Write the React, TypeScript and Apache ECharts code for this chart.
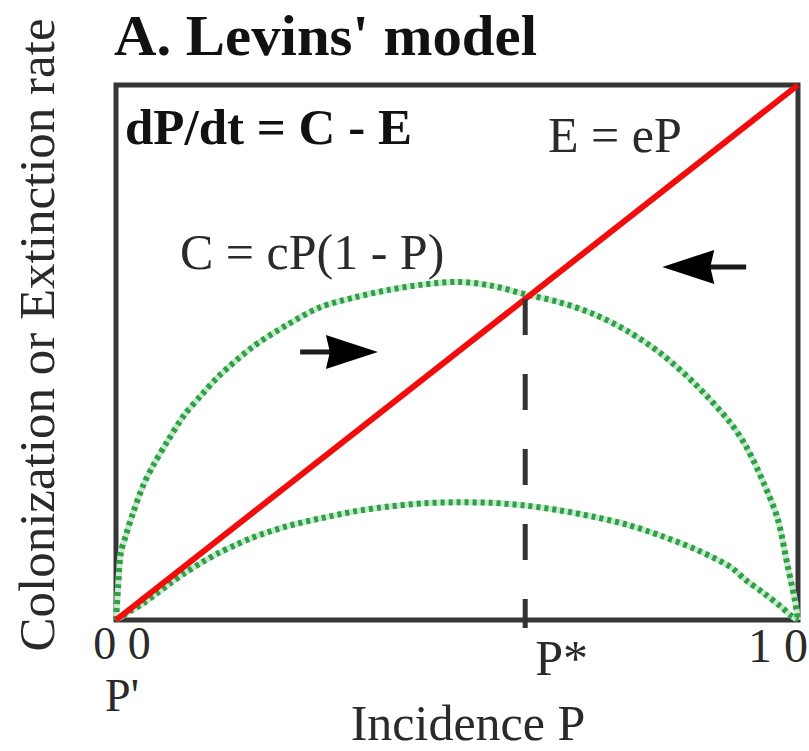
import React, { useEffect, useRef } from "react";
import * as echarts from "echarts";

// Incidence P (x) and colonization rate C for the two colonization curves
const incidenceHigh = [0, 0.003, 0.007, 0.015, 0.025, 0.04, 0.055, 0.075, 0.1, 0.125, 0.15, 0.2, 0.25, 0.3, 0.35, 0.4, 0.45, 0.5, 0.55, 0.6, 0.65, 0.7, 0.75, 0.8, 0.85, 0.9, 0.925, 0.95, 0.97, 0.985, 0.995, 1];
const colonizationHigh = [0, 0.06, 0.125, 0.16, 0.2, 0.252, 0.29, 0.333, 0.383, 0.42, 0.455, 0.51, 0.551, 0.585, 0.603, 0.617, 0.627, 0.632, 0.625, 0.609, 0.594, 0.572, 0.54, 0.497, 0.44, 0.37, 0.322, 0.255, 0.19, 0.1, 0.04, 0];

const incidenceLow = [0, 0.02, 0.04, 0.06, 0.08, 0.1, 0.125, 0.15, 0.175, 0.2, 0.25, 0.3, 0.35, 0.4, 0.45, 0.5, 0.55, 0.6, 0.65, 0.7, 0.75, 0.8, 0.85, 0.9, 0.925, 0.95, 0.975, 0.99, 1];
const colonizationLow = [0, 0.016, 0.031, 0.05, 0.069, 0.087, 0.107, 0.125, 0.14, 0.154, 0.175, 0.19, 0.203, 0.212, 0.218, 0.22, 0.219, 0.214, 0.205, 0.193, 0.178, 0.157, 0.132, 0.1, 0.073, 0.05, 0.025, 0.008, 0];

// Extinction line E = eP
const extinctionP = [0, 1];
const extinctionRate = [0, 1];

// Equilibrium incidence P* and the rate where C = E
const equilibriumP = 0.6;
const equilibriumRate = 0.6;

// Direction-of-change arrows: tail P, tip P, rate level
const arrowTail = [0.27, 0.924];
const arrowTip = [0.384, 0.801];
const arrowLevel = [0.501, 0.66];

// Axis tick texts
const tickOrigin = "0 0";
const tickEnd = "1 0";
const tickLowerP = "P'";
const tickEquilibrium = "P*";

const SERIF = '"Liberation Serif", "Times New Roman", serif';
const INK = "#2a2a2a";
const GREEN_DARK = "#2f9e44";
const GREEN_LIGHT = "#c6eacf";

const zip = (xs: number[], ys: number[]) => xs.map((x, i) => [x, ys[i]]);

function text(content: string, x: number, y: number, size: number, opts: any = {}) {
  const align = opts.align || "left";
  return {
    type: "text",
    x,
    y,
    rotation: opts.rotation || 0,
    scaleX: opts.scaleX || 1,
    z: 10,
    style: {
      text: content,
      font: `${opts.bold ? "bold " : ""}${size}px ${SERIF}`,
      fill: opts.fill || INK,
      align,
      textAlign: align,
      verticalAlign: "middle",
      textVerticalAlign: "middle",
    },
  };
}

export default function App() {
  const ref = useRef<HTMLDivElement>(null);

  useEffect(() => {
    if (!ref.current) return;
    const chart = echarts.init(ref.current, null, { renderer: "svg" });

    const dottedCurve = (data: number[][]) => [
      {
        type: "line",
        data,
        smooth: 0.3,
        showSymbol: false,
        silent: true,
        z: 2,
        lineStyle: { color: GREEN_LIGHT, width: 6 },
      },
      {
        type: "line",
        data,
        smooth: 0.3,
        showSymbol: false,
        silent: true,
        z: 3,
        lineStyle: { color: GREEN_DARK, width: 6, type: [4, 4], cap: "butt" },
      },
    ];

    const HEAD_LEN = 52;
    const HEAD_W = 34;

    chart.setOption({
      animation: false,
      backgroundColor: "#ffffff",
      grid: {
        left: 116,
        right: 11,
        top: 85,
        bottom: 131,
        show: true,
        borderColor: "#363636",
        borderWidth: 5,
        backgroundColor: "transparent",
      },
      xAxis: {
        type: "value",
        min: 0,
        max: 1,
        axisLine: { show: false },
        axisTick: { show: false },
        axisLabel: { show: false },
        splitLine: { show: false },
      },
      yAxis: {
        type: "value",
        min: 0,
        max: 1,
        axisLine: { show: false },
        axisTick: { show: false },
        axisLabel: { show: false },
        splitLine: { show: false },
      },
      series: [
        ...dottedCurve(zip(incidenceHigh, colonizationHigh)),
        ...dottedCurve(zip(incidenceLow, colonizationLow)),
        {
          type: "line",
          data: zip(extinctionP, extinctionRate),
          showSymbol: false,
          silent: true,
          z: 5,
          lineStyle: { color: "#f20d0d", width: 6 },
        },
        {
          type: "custom",
          silent: true,
          z: 6,
          data: [[equilibriumP, equilibriumRate]],
          renderItem: (params: any, api: any) => {
            const top = api.coord([api.value(0), api.value(1)]);
            const base = api.coord([api.value(0), 0]);
            return {
              type: "group",
              children: [
                {
                  type: "line",
                  shape: { x1: top[0], y1: top[1], x2: base[0], y2: base[1] + 8 },
                  style: { stroke: "#333333", lineWidth: 5, lineDash: [36, 39] },
                },
                {
                  type: "text",
                  x: base[0] + 10,
                  y: base[1] + 38,
                  style: {
                    text: tickEquilibrium,
                    font: `50px ${SERIF}`,
                    fill: INK,
                    align: "left",
                    verticalAlign: "middle",
                  },
                },
              ],
            };
          },
        },
        {
          type: "custom",
          silent: true,
          z: 6,
          data: arrowTail.map((t, i) => [t, arrowTip[i], arrowLevel[i]]),
          renderItem: (params: any, api: any) => {
            const a = api.coord([api.value(0), api.value(2)]);
            const b = api.coord([api.value(1), api.value(2)]);
            const dir = Math.sign(b[0] - a[0]);
            const baseX = b[0] - dir * HEAD_LEN;
            return {
              type: "group",
              children: [
                {
                  type: "line",
                  shape: { x1: a[0], y1: a[1], x2: baseX + dir * 6, y2: b[1] },
                  style: { stroke: "#1a1a1a", lineWidth: 5 },
                },
                {
                  type: "polygon",
                  shape: {
                    points: [
                      [b[0], b[1]],
                      [baseX, b[1] - HEAD_W / 2],
                      [baseX + dir * 4, b[1]],
                      [baseX, b[1] + HEAD_W / 2],
                    ],
                  },
                  style: { fill: "#000000" },
                },
              ],
            };
          },
        },
      ],
      graphic: [
        text("A. Levins' model", 114, 36, 56, { bold: true, fill: "#111", scaleX: 1.05 }),
        text("Colonization or Extinction rate", 37, 335, 51, { align: "center", rotation: Math.PI / 2 }),
        text("Incidence P", 468, 723, 50, { align: "center" }),
        text(tickOrigin, 122, 643, 46, { align: "center" }),
        text(tickLowerP, 122, 695, 46, { align: "center" }),
        text(tickEnd, 748, 645, 48),
        text("dP/dt = C - E", 125, 127, 50, { bold: true, fill: "#111", scaleX: 1.02 }),
        text("E = eP", 548, 135, 50),
        text("C = cP(1 - P)", 180, 252, 50),
      ],
    });

    return () => chart.dispose();
  }, []);

  return (
    <div
      ref={ref}
      style={{ position: "absolute", left: 0, top: 0, width: 809, height: 751 }}
    />
  );
}
